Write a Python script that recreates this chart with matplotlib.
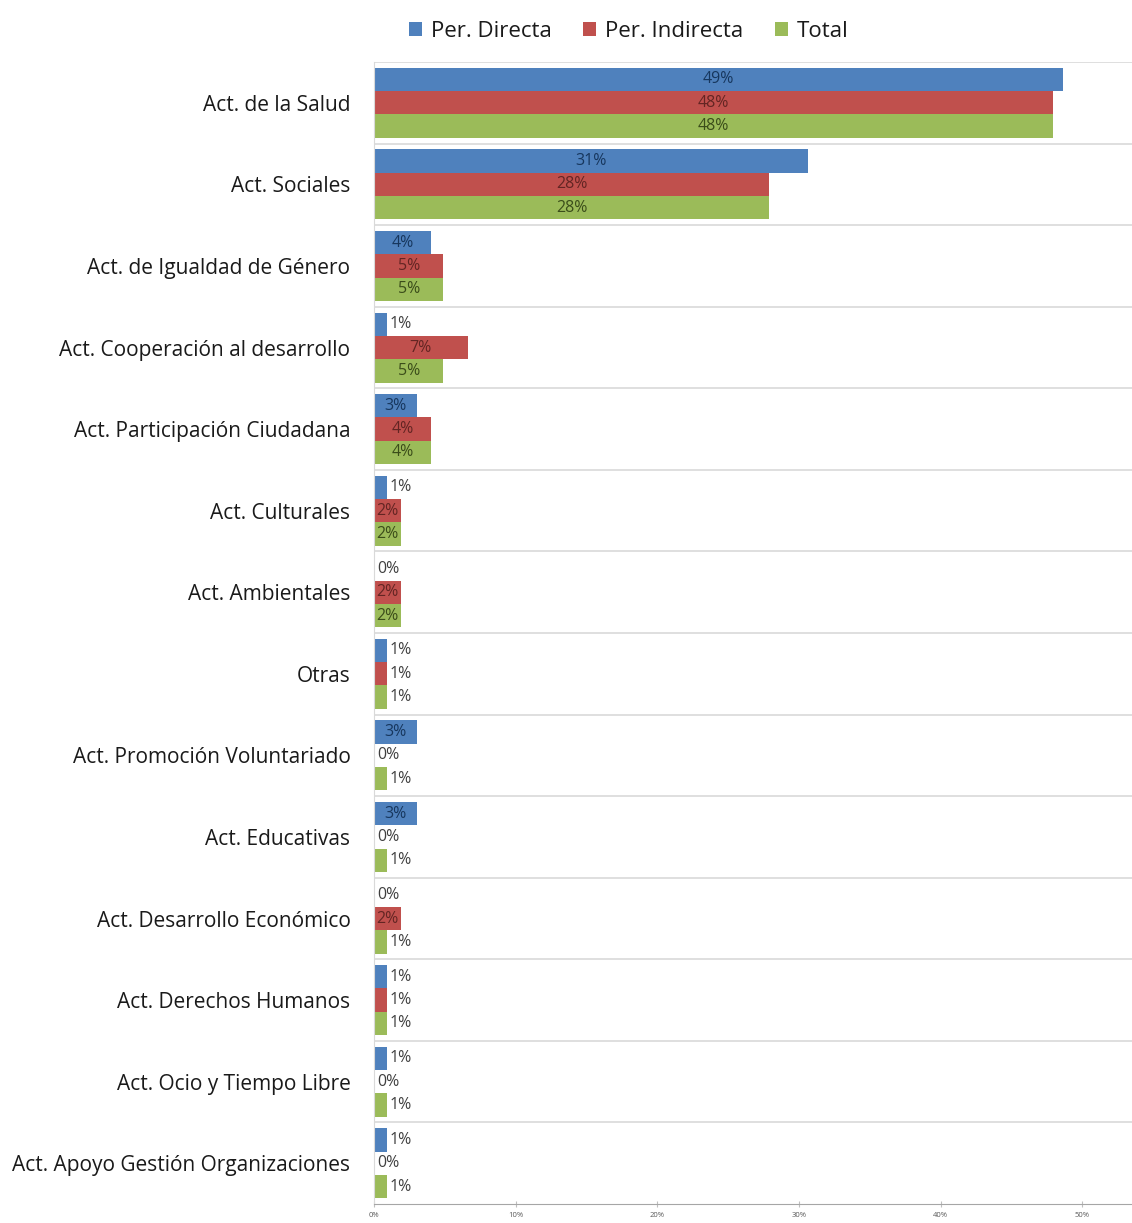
import numpy as np
import matplotlib.pyplot as plt

categorias = ['Act. de la Salud', 'Act. Sociales', 'Act. de Igualdad de Género',
              'Act. Cooperación al desarrollo', 'Act. Participación Ciudadana',
              'Act. Culturales', 'Act. Ambientales', 'Otras',
              'Act. Promoción Voluntariado', 'Act. Educativas',
              'Act. Desarrollo Económico', 'Act. Derechos Humanos',
              'Act. Ocio y Tiempo Libre', 'Act. Apoyo Gestión Organizaciones']
directa = [48.6, 30.6, 4.0, 0.9, 3.0, 0.9, 0.0, 0.9, 3.0, 3.0, 0.0, 0.9, 0.9, 0.9]
indirecta = [47.9, 27.9, 4.9, 6.6, 4.0, 1.9, 1.9, 0.9, 0.0, 0.0, 1.9, 0.9, 0.0, 0.0]
total = [47.9, 27.9, 4.9, 4.9, 4.0, 1.9, 1.9, 0.9, 0.9, 0.9, 0.9, 0.9, 0.9, 0.9]
series = ['Per. Directa', 'Per. Indirecta', 'Total']
colores = ['#4F81BD', '#C0504D', '#9BBB59']
oscuros = ['#17375E', '#632523', '#3B4D1A']

plt.rcParams['font.family'] = ['Open Sans', 'DejaVu Sans']

fig = plt.figure(figsize=(11.32, 12.23), dpi=100)
ax = fig.add_axes([0.3304, 0.0155, 0.6696, 0.9338])

y = np.arange(len(categorias))
h = 0.286
for k, vals in enumerate([directa, indirecta, total]):
    pos = y + (k - 1) * h
    ax.barh(pos, vals, height=h, color=colores[k], label=series[k])
    for p, v in zip(pos, vals):
        txt = '%d%%' % round(v)
        if v >= 1.5:
            ax.text(v / 2, p, txt, ha='center', va='center', fontsize=11.5,
                    color=oscuros[k])
        else:
            ax.text(v + 0.2, p, txt, ha='left', va='center', fontsize=11.5,
                    color='#404040')

for b in np.arange(-0.5, len(categorias) - 0.5, 1.0):
    ax.axhline(b, color='#D9D9D9', lw=1.2, zorder=0)

ax.set_ylim(len(categorias) - 0.5, -0.5)
ax.set_xlim(0, 53.5)
ax.set_yticks(y)
ax.set_yticklabels(categorias, fontsize=15, color='#1a1a1a')
ax.tick_params(axis='y', length=0, pad=17)
ax.set_xticks(np.arange(0, 51, 10))
ax.set_xticklabels(['%d%%' % t for t in range(0, 51, 10)], fontsize=5.5, color='#595959')
ax.tick_params(axis='x', direction='inout', length=5, color='#BFBFBF', pad=3)

for s in ['top', 'right']:
    ax.spines[s].set_visible(False)
ax.spines['left'].set_color('#D9D9D9')
ax.spines['bottom'].set_color('#A6A6A6')

ax.legend(loc='lower center', bbox_to_anchor=(0.336, 1.0), ncol=3, frameon=False,
          fontsize=16, handlelength=0.6, handleheight=0.6, handletextpad=0.4,
          columnspacing=1.4, labelcolor='#1a1a1a')

fig.savefig('out.png', dpi=100)
